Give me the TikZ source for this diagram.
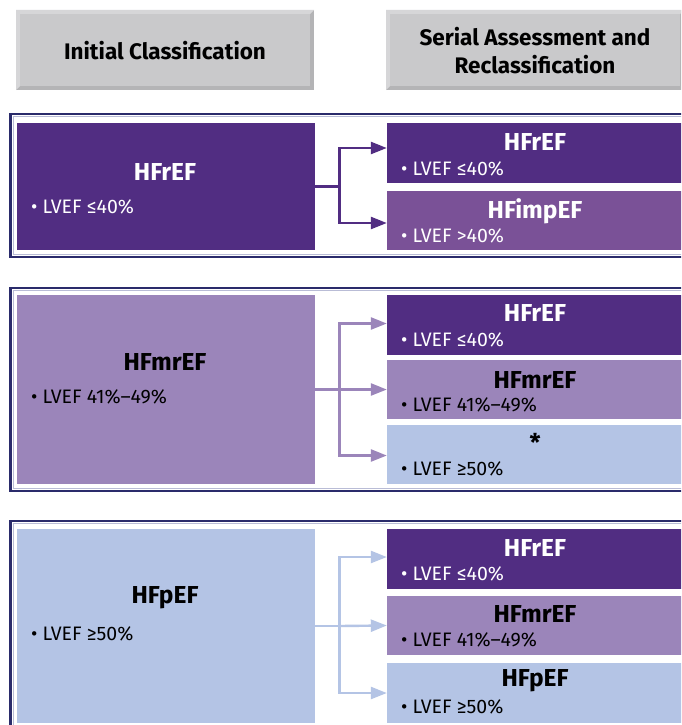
\documentclass[tikz,border=0pt]{standalone}
\usepackage{fontspec}
\setmainfont{Fira Sans}
\usetikzlibrary{arrows.meta,calc}
\definecolor{cDark}{HTML}{512D82}
\definecolor{cImp}{HTML}{7A5197}
\definecolor{cMr}{HTML}{9B85BA}
\definecolor{cP}{HTML}{B4C4E5}
\definecolor{cNavy}{HTML}{2A2B6B}
\definecolor{cInner}{HTML}{B9BCD6}
\definecolor{cHead}{HTML}{C9C9CB}
\definecolor{cHeadL}{HTML}{D6D6D8}
\definecolor{cHeadD}{HTML}{B4B4B6}
\tikzset{
  box/.style={rectangle, inner sep=0pt, draw=none},
  lbox/.style={box, minimum width=298pt},
  rbox/.style={box, minimum width=296pt},
  ttl/.style={font=\fontsize{24.5}{28}\selectfont\bfseries, inner sep=0pt},
  bul/.style={font=\fontsize{19.5}{22}\selectfont, inner sep=0pt, anchor=west},
  hdr/.style={font=\fontsize{22.5}{28}\selectfont\bfseries, align=center, inner sep=0pt},
  conn/.style={line width=2.4pt, -{Triangle[length=16pt,width=12pt]}},
  stem/.style={line width=2.4pt},
  panel/.style={draw=cNavy, line width=2.6pt},
  panelin/.style={draw=cInner, line width=0.8pt}
}
\newcommand{\bevelbox}[4]{%
  \fill[cHeadD] (#1,#2) rectangle (#3,#4);
  \fill[cHeadL] (#1,#2) -- (#3,#2) -- ($(#3,#2)+(-4,4)$) -- ($(#1,#2)+(4,4)$) -- ($(#1,#4)+(4,-4)$) -- (#1,#4) -- cycle;
  \fill[cHead] ($(#1,#2)+(4,4)$) rectangle ($(#3,#4)+(-4,-4)$);
}
\begin{document}
\begin{tikzpicture}[x=1pt,y=-1pt]
\useasboundingbox (0,0) rectangle (681,725);
\clip (0,0) rectangle (681,725);
\fill[white] (0,0) rectangle (681,725);

% headers
\bevelbox{16}{10}{314}{90}
\bevelbox{386}{10}{684}{90}
\node[hdr] (h1) at (165,51) {Initial Classification};
\node[hdr] (h2) at (535,51) {Serial Assessment and\\Reclassification};

% panel outlines
\draw[panel] (10.5,114) rectangle (700,257);
\draw[panelin] (13,116.5) rectangle (700,254.5);
\draw[panel] (10.5,288) rectangle (700,491);
\draw[panelin] (13,290.5) rectangle (700,488.5);
\draw[panel] (10.5,521) rectangle (700,760);
\draw[panelin] (13,523.5) rectangle (700,760);

% ---------- panel 1 ----------
\node[lbox, fill=cDark, minimum height=127pt] (L1) at (166,186.5) {};
\node[rbox, fill=cDark, minimum height=60pt] (R11) at (535,153) {};
\node[rbox, fill=cImp, minimum height=59pt] (R12) at (535,220.5) {};
\node[ttl, text=white] (L1t) at (165,172) {HFrEF};
\node[bul, text=white] (L1b) at (31,207) {• LVEF ≤40\%};
\node[ttl, text=white] (R11t) at (535,142) {HFrEF};
\node[bul, text=white] (R11b) at (401,169) {• LVEF ≤40\%};
\node[ttl, text=white] (R12t) at (535,211) {HFimpEF};
\node[bul, text=white] (R12b) at (401,236) {• LVEF >40\%};
\coordinate (T1) at (339.5,186.5);
\draw[stem, cDark] (L1.east) -- (T1);
\draw[conn, cDark] (T1) |- ([yshift=5pt]R11.west);
\draw[conn, cDark] (T1) |- ([yshift=-2.5pt]R12.west);

% ---------- panel 2 ----------
\node[lbox, fill=cMr, minimum height=189pt] (L2) at (166,389.5) {};
\node[rbox, fill=cDark, minimum height=60pt] (R21) at (535,325) {};
\node[rbox, fill=cMr, minimum height=59pt] (R22) at (535,389.5) {};
\node[rbox, fill=cP, minimum height=59pt] (R23) at (535,454.5) {};
\node[ttl] (L2t) at (165,362) {HFmrEF};
\node[bul] (L2b) at (31,397) {• LVEF 41\%–49\%};
\node[ttl, text=white] (R21t) at (535,313) {HFrEF};
\node[bul, text=white] (R21b) at (401,340) {• LVEF ≤40\%};
\node[ttl] (R22t) at (535,380) {HFmrEF};
\node[bul] (R22b) at (401,405) {• LVEF 41\%–49\%};
\node[ttl] (R23t) at (535,442) {*};
\node[bul] (R23b) at (401,469) {• LVEF ≥50\%};
\coordinate (T2) at (339.5,389.5);
\draw[stem, cMr] (L2.east) -- (T2);
\draw[conn, cMr] (T2) |- ([yshift=1.5pt]R21.west);
\draw[conn, cMr] (T2) -- (R22.west);
\draw[conn, cMr] (T2) |- ([yshift=-1pt]R23.west);

% ---------- panel 3 ----------
\node[lbox, fill=cP, minimum height=194pt] (L3) at (166,626) {};
\node[rbox, fill=cDark, minimum height=60pt] (R31) at (535,558.5) {};
\node[rbox, fill=cMr, minimum height=59pt] (R32) at (535,625.5) {};
\node[rbox, fill=cP, minimum height=60pt] (R33) at (535,693) {};
\node[ttl] (L3t) at (165,598) {HFpEF};
\node[bul] (L3b) at (31,634) {• LVEF ≥50\%};
\node[ttl, text=white] (R31t) at (535,548) {HFrEF};
\node[bul, text=white] (R31b) at (401,574) {• LVEF ≤40\%};
\node[ttl] (R32t) at (535,614) {HFmrEF};
\node[bul] (R32b) at (401,640) {• LVEF 41\%–49\%};
\node[ttl] (R33t) at (535,681) {HFpEF};
\node[bul] (R33b) at (401,707) {• LVEF ≥50\%};
\coordinate (T3) at (339.5,626);
\draw[stem, cP] (L3.east) -- (T3);
\draw[conn, cP] (T3) |- ([yshift=1.5pt]R31.west);
\draw[conn, cP] (T3) -- (R32.west);
\draw[conn, cP] (T3) |- (R33.west);
\end{tikzpicture}
\end{document}
